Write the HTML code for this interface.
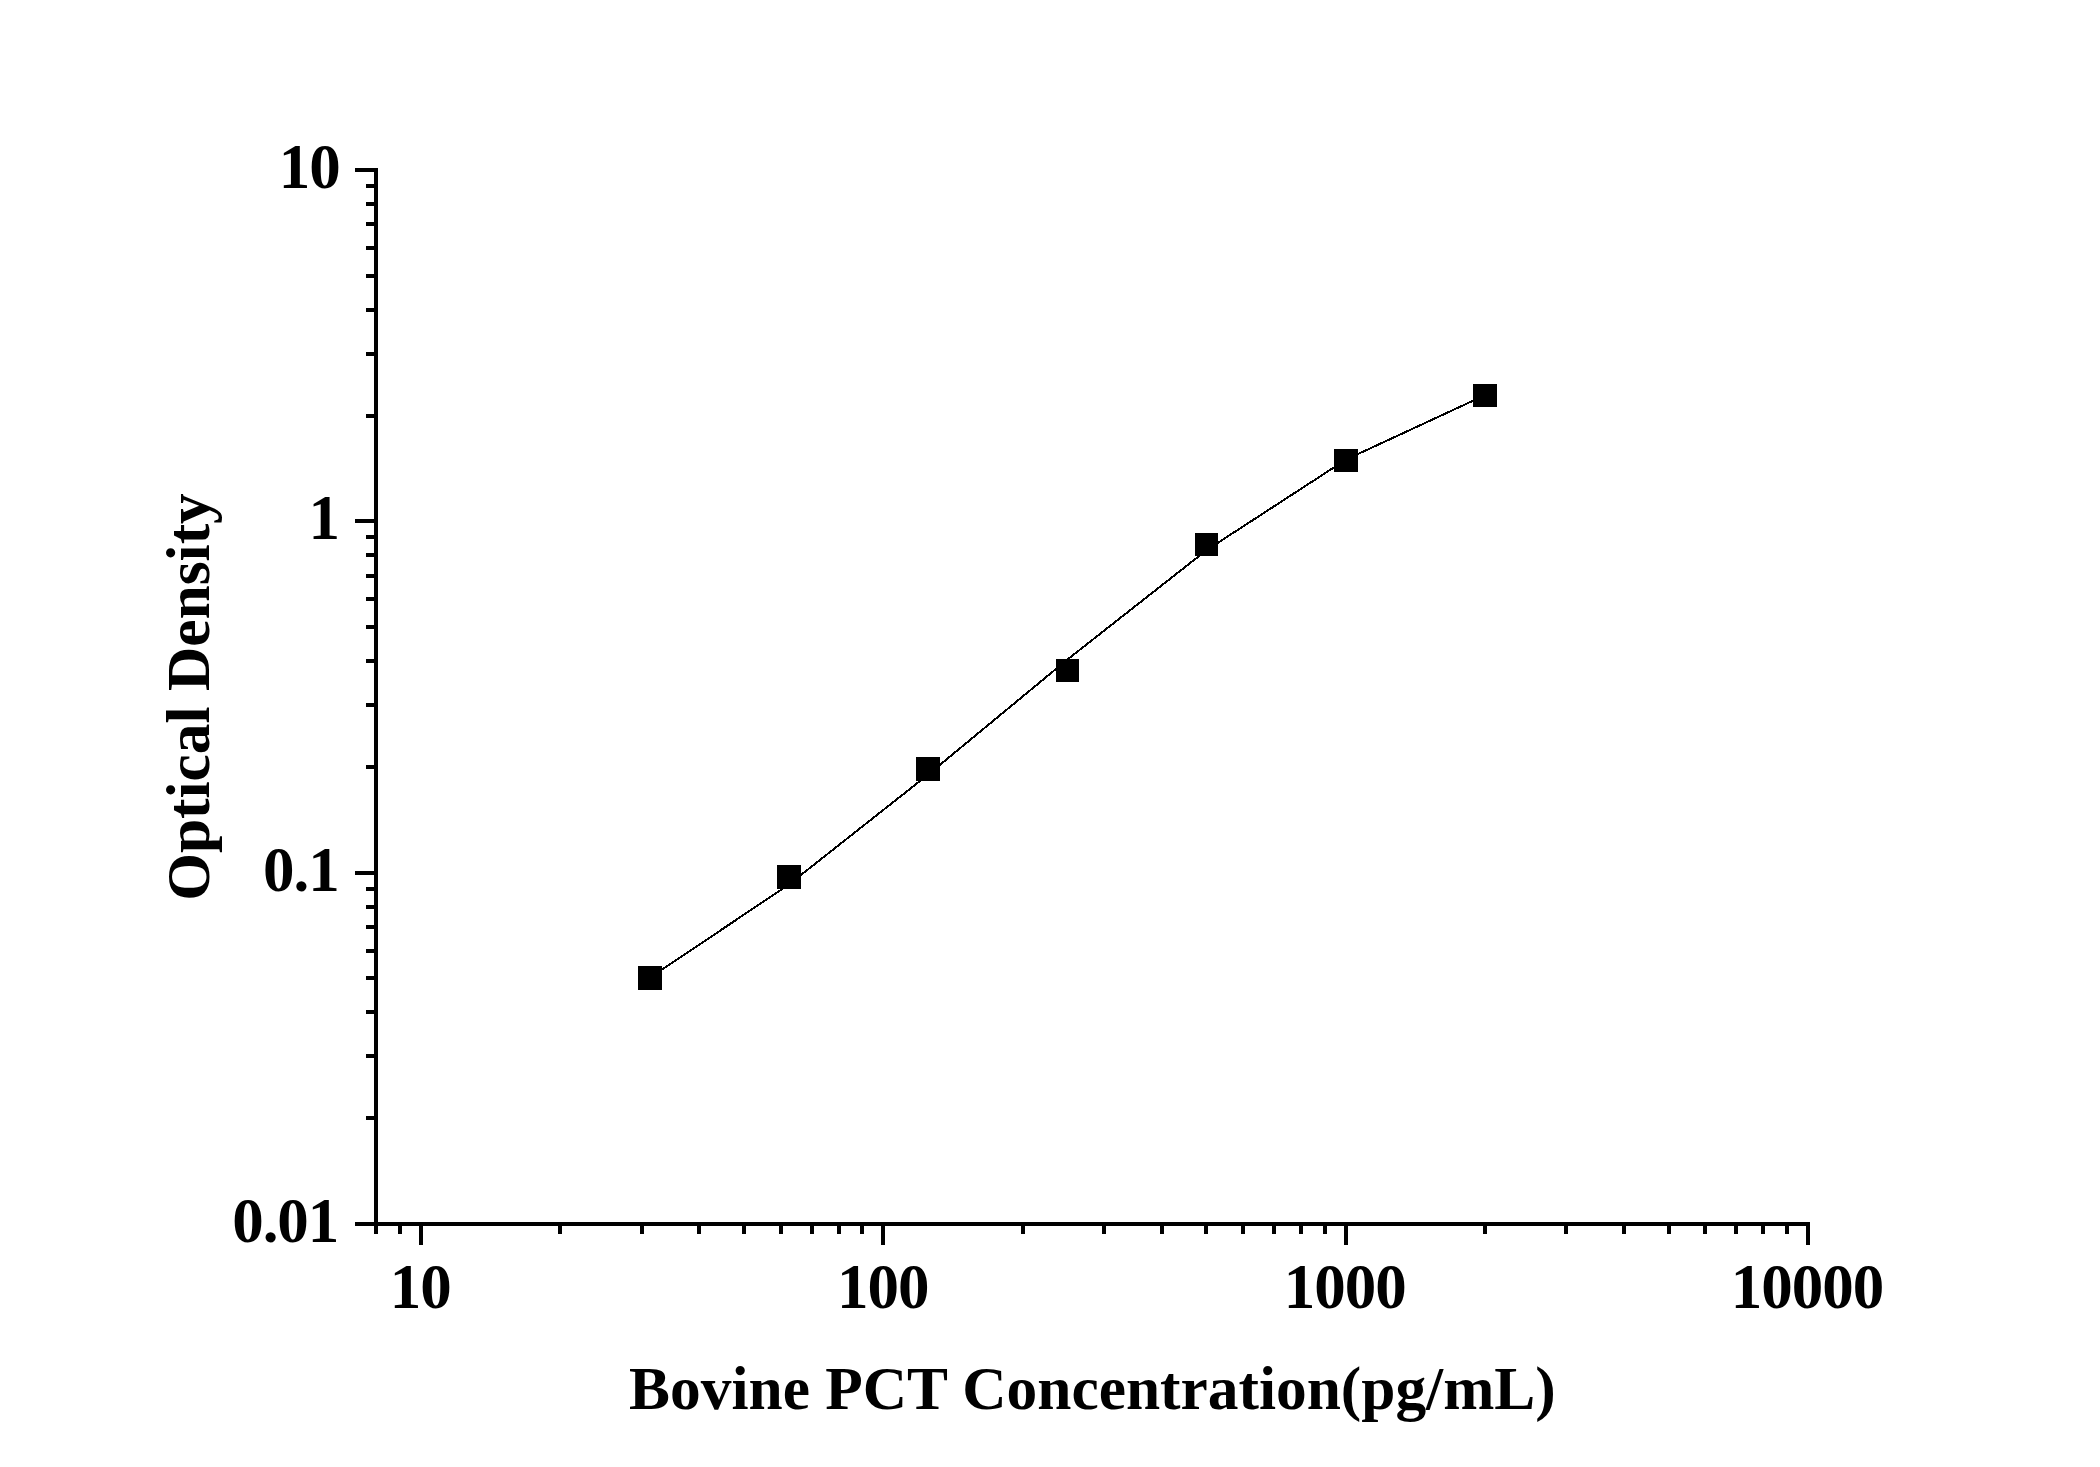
<!DOCTYPE html>
<html><head><meta charset="utf-8"><title>Bovine PCT standard curve</title>
<style>
html,body{margin:0;padding:0;background:#fff;}
body{width:2100px;height:1467px;overflow:hidden;}
svg{display:block;}
text{font-family:"Liberation Serif",serif;font-weight:bold;fill:#000;}
</style></head><body>
<svg width="2100" height="1467" viewBox="0 0 2100 1467">
<rect x="0" y="0" width="2100" height="1467" fill="#fff"/>
<g fill="#000" shape-rendering="crispEdges">
<rect x="374" y="168" width="4" height="1058"/>
<rect x="355" y="1222" width="1455" height="4"/>
<rect x="355" y="1222" width="19" height="4"/>
<rect x="366" y="1116" width="8" height="4"/>
<rect x="366" y="1054" width="8" height="4"/>
<rect x="366" y="1010" width="8" height="4"/>
<rect x="366" y="976" width="8" height="4"/>
<rect x="366" y="949" width="8" height="4"/>
<rect x="366" y="925" width="8" height="4"/>
<rect x="366" y="905" width="8" height="4"/>
<rect x="366" y="887" width="8" height="4"/>
<rect x="355" y="871" width="19" height="4"/>
<rect x="366" y="765" width="8" height="4"/>
<rect x="366" y="703" width="8" height="4"/>
<rect x="366" y="659" width="8" height="4"/>
<rect x="366" y="625" width="8" height="4"/>
<rect x="366" y="597" width="8" height="4"/>
<rect x="366" y="574" width="8" height="4"/>
<rect x="366" y="553" width="8" height="4"/>
<rect x="366" y="535" width="8" height="4"/>
<rect x="355" y="519" width="19" height="4"/>
<rect x="366" y="414" width="8" height="4"/>
<rect x="366" y="352" width="8" height="4"/>
<rect x="366" y="308" width="8" height="4"/>
<rect x="366" y="274" width="8" height="4"/>
<rect x="366" y="246" width="8" height="4"/>
<rect x="366" y="222" width="8" height="4"/>
<rect x="366" y="202" width="8" height="4"/>
<rect x="366" y="184" width="8" height="4"/>
<rect x="355" y="168" width="19" height="4"/>
<rect x="374" y="1226" width="4" height="8"/>
<rect x="398" y="1226" width="4" height="8"/>
<rect x="419" y="1226" width="4" height="19"/>
<rect x="558" y="1226" width="4" height="8"/>
<rect x="640" y="1226" width="4" height="8"/>
<rect x="697" y="1226" width="4" height="8"/>
<rect x="742" y="1226" width="4" height="8"/>
<rect x="779" y="1226" width="4" height="8"/>
<rect x="810" y="1226" width="4" height="8"/>
<rect x="837" y="1226" width="4" height="8"/>
<rect x="860" y="1226" width="4" height="8"/>
<rect x="881" y="1226" width="4" height="19"/>
<rect x="1021" y="1226" width="4" height="8"/>
<rect x="1102" y="1226" width="4" height="8"/>
<rect x="1160" y="1226" width="4" height="8"/>
<rect x="1204" y="1226" width="4" height="8"/>
<rect x="1241" y="1226" width="4" height="8"/>
<rect x="1272" y="1226" width="4" height="8"/>
<rect x="1299" y="1226" width="4" height="8"/>
<rect x="1323" y="1226" width="4" height="8"/>
<rect x="1344" y="1226" width="4" height="19"/>
<rect x="1483" y="1226" width="4" height="8"/>
<rect x="1564" y="1226" width="4" height="8"/>
<rect x="1622" y="1226" width="4" height="8"/>
<rect x="1667" y="1226" width="4" height="8"/>
<rect x="1703" y="1226" width="4" height="8"/>
<rect x="1734" y="1226" width="4" height="8"/>
<rect x="1761" y="1226" width="4" height="8"/>
<rect x="1785" y="1226" width="4" height="8"/>
<rect x="1806" y="1226" width="4" height="19"/>
<rect x="638" y="966" width="24" height="24"/>
<rect x="777" y="865" width="24" height="24"/>
<rect x="916" y="757" width="24" height="24"/>
<rect x="1056" y="659" width="23" height="23"/>
<rect x="1195" y="533" width="23" height="23"/>
<rect x="1334" y="449" width="24" height="23"/>
<rect x="1473" y="384" width="24" height="23"/>
</g>
<polyline points="650,977.7 789,884.4 928,774.7 1067.3,659.6 1206.5,550.2 1346,459.6 1485,395.2" fill="none" stroke="#000" stroke-width="2" shape-rendering="crispEdges"/>
<g>
<text x="309.15" y="188" text-anchor="middle" font-size="63" letter-spacing="-1.05">10</text>
<text x="323.7" y="538.8" text-anchor="middle" font-size="63" letter-spacing="-1.05">1</text>
<text x="300.9" y="891" text-anchor="middle" font-size="63" letter-spacing="-1.05">0.1</text>
<text x="285.25" y="1241.5" text-anchor="middle" font-size="63" letter-spacing="-1.05">0.01</text>
<text x="420.15" y="1308.1" text-anchor="middle" font-size="63" letter-spacing="-1.05">10</text>
<text x="882.8" y="1308.1" text-anchor="middle" font-size="63" letter-spacing="-1.05">100</text>
<text x="1344.75" y="1308.1" text-anchor="middle" font-size="63" letter-spacing="-1.05">1000</text>
<text x="1807" y="1308.1" text-anchor="middle" font-size="63" letter-spacing="-1.05">10000</text>
<text x="1092.4" y="1409" text-anchor="middle" font-size="61.4">Bovine PCT Concentration(pg/mL)</text>
<text x="0" y="0" text-anchor="middle" font-size="61.4" transform="translate(208.7,697) rotate(-90)">Optical Density</text>
</g>
</svg>
</body></html>
